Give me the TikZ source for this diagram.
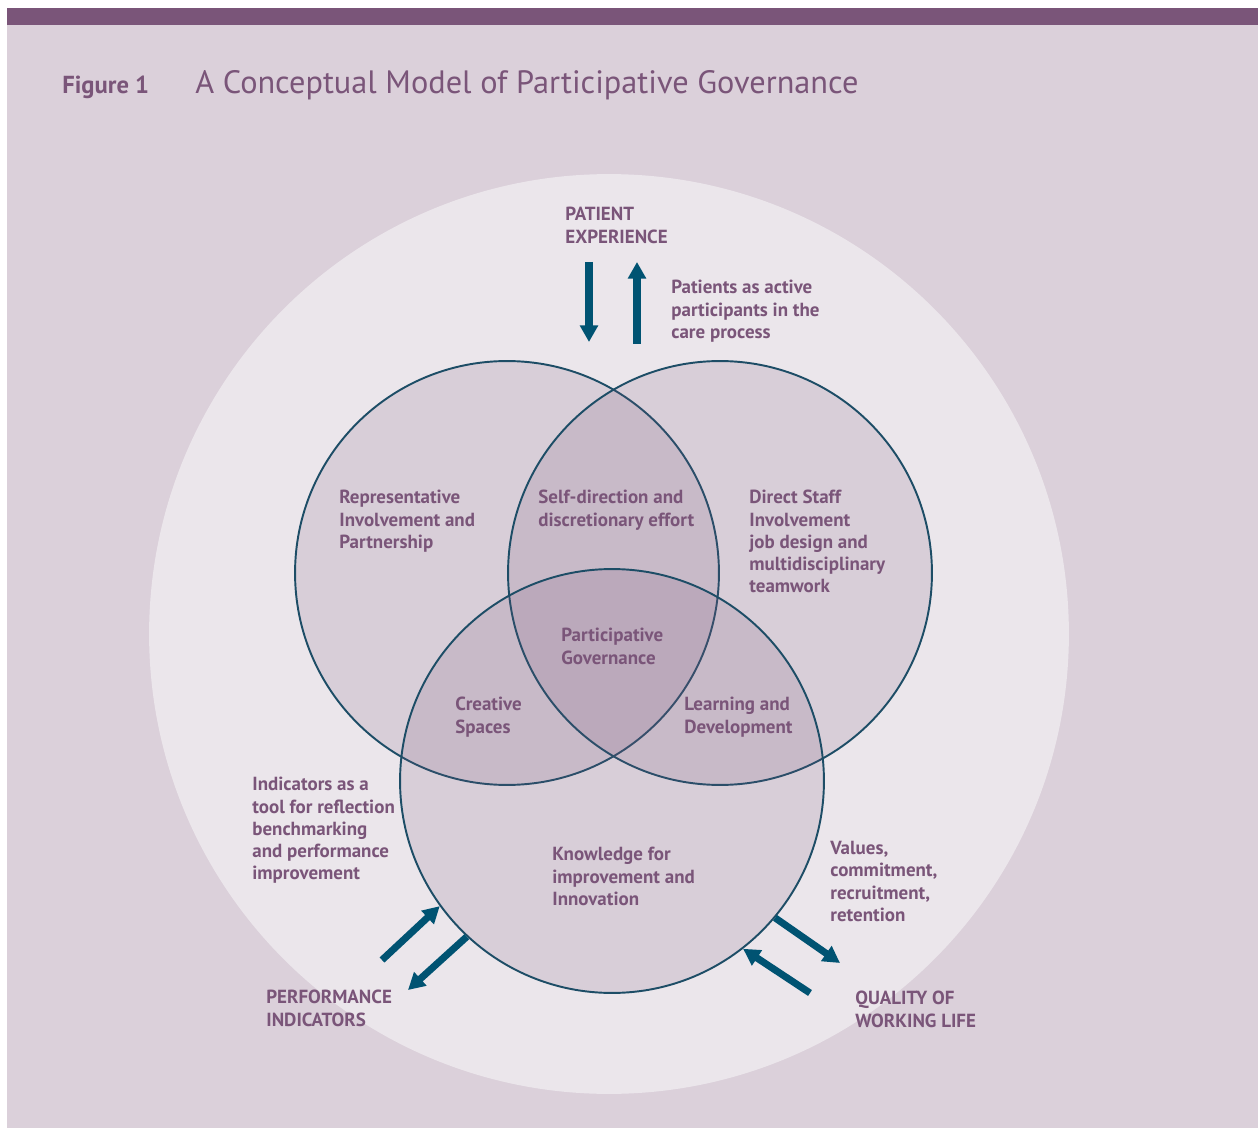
\documentclass[tikz,border=0pt]{standalone}
\usepackage{fontspec}
\setmainfont{PT Sans}
\usepackage{tikz}
\usetikzlibrary{arrows.meta}
\definecolor{plum}{HTML}{7A5579}
\definecolor{mauve}{HTML}{DBD0DA}
\definecolor{pale}{HTML}{EBE6EB}
\definecolor{ink}{HTML}{1D4D66}
\definecolor{petrol}{HTML}{005372}
\tikzstyle{outer}=[
	circle,
	fill=pale,
	minimum size=18.4cm,
	inner sep=0pt
]
\tikzstyle{venn}=[
	circle,
	draw=ink,
	line width=1.1pt,
	fill=plum,
	fill opacity=0.16,
	minimum size=8.48cm,
	inner sep=0pt
]
\tikzstyle{label}=[
	text=plum,
	font=\bfseries\fontsize{10.8}{12.65}\selectfont,
	align=left,
	anchor=north west,
	inner sep=0pt
]
\tikzstyle{flow}=[
	draw=petrol,
	line width=4pt,
	-{Triangle[width=10pt,length=9.5pt]}
]
\begin{document}
\begin{tikzpicture}[x=0.02cm,y=-0.02cm]
\fill[white] (0,0) rectangle (1258,1128);
\fill[mauve] (7,8) rectangle (1258,1128);
\fill[plum] (7,8) rectangle (1258,25);

\node[text=plum, font=\bfseries\fontsize{14}{16}\selectfont, anchor=base west, inner sep=0pt] (fig) at (62,94) {Figure 1};
\node[text=plum, font=\fontsize{18.4}{21}\selectfont, anchor=base west, inner sep=0pt] (title) at (195,94) {A Conceptual Model of Participative Governance};

\node[outer] (whole) at (609,634) {};
\node[venn] (rep) at (507,573) {};
\node[venn] (direct) at (720,573) {};
\node[venn] (know) at (612,781) {};

\node[label] (patient) at (565,207) {PATIENT\\EXPERIENCE};
\node[label] (active) at (671,280) {Patients as active\\participants in the\\care process};
\node[label] (repl) at (339,490) {Representative\\Involvement and\\Partnership};
\node[label] (self) at (538,490) {Self-direction and\\discretionary effort};
\node[label] (directl) at (749,490) {Direct Staff\\Involvement\\job design and\\multidisciplinary\\teamwork};
\node[label] (pg) at (561,628) {Participative\\Governance};
\node[label] (creative) at (455,697) {Creative\\Spaces};
\node[label] (learn) at (684,697) {Learning and\\Development};
\node[label] (ind) at (252,777) {Indicators as a\\tool for reflection\\benchmarking\\and performance\\improvement};
\node[label] (knowl) at (552,847) {Knowledge for\\improvement and\\Innovation};
\node[label] (values) at (830,841) {Values,\\commitment,\\recruitment,\\retention};
\node[label] (perf) at (266,990) {PERFORMANCE\\INDICATORS};
\node[label] (qwl) at (855,991) {QUALITY OF\\WORKING LIFE};

\coordinate (pin) at (589,262);
\coordinate (pinend) at (589,342);
\coordinate (pout) at (637,344);
\coordinate (poutend) at (637,262);
\coordinate (pfrom) at (382,960);
\coordinate (pto) at (408,990);
\coordinate (qto) at (840,963);
\coordinate (qfrom) at (810,993);

\draw[flow] (pin) -- (pinend);
\draw[flow] (pout) -- (poutend);
\draw[flow] (pfrom) -- (know.216);
\draw[flow] (know.227) -- (pto);
\draw[flow] (know.320) -- (qto);
\draw[flow] (qfrom) -- (know.308);
\end{tikzpicture}
\end{document}
